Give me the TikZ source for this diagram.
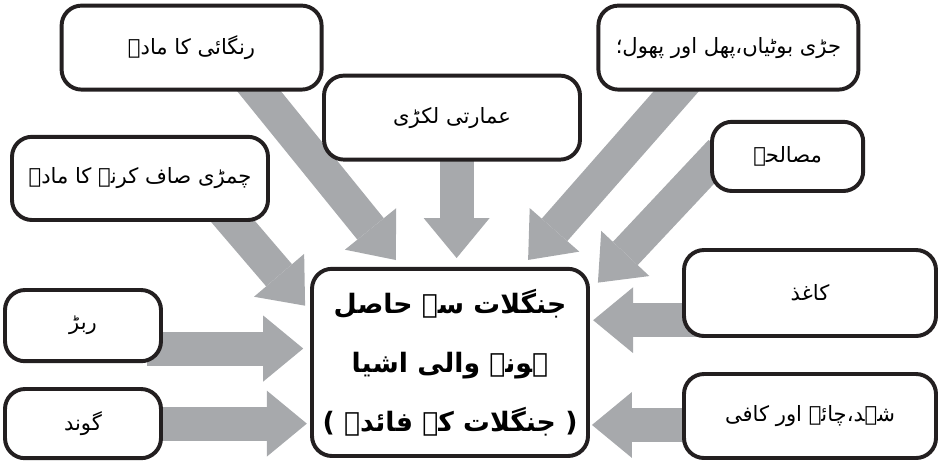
\documentclass[tikz,border=0pt]{standalone}
\usepackage{fontspec}
\usepackage{tikz}
\usetikzlibrary{arrows.meta,backgrounds}
\newfontfamily\urdu[Script=Arabic]{DejaVu Sans}
\TeXXeTstate=1
\definecolor{flowgray}{RGB}{167,169,172}
\definecolor{ink}{RGB}{35,31,32}

\begin{document}
\begin{tikzpicture}[
		source/.style={draw=ink,line width=2.8pt,rounded corners=.5cm,fill=white,font=\urdu\fontsize{15}{18}\selectfont},
		hub/.style={source,align=center,font=\urdu\bfseries\fontsize{19}{42}\selectfont},
		flow/.style={flowgray,line width=.85cm,-{Triangle[width=1.65cm,length=1cm,line width=0pt]},shorten <=-.4cm}]
			\useasboundingbox (0,0) rectangle (23.475,-11.65);
			\node[source,minimum width=6.5cm,minimum height=2.1cm] (rang) at (4.79,-1.19) {\beginR رنگائی کا مادہ\endR};
			\node[source,minimum width=6.4cm,minimum height=2.1cm] (imarat) at (11.3,-2.94) {\beginR عمارتی لکڑی\endR};
			\node[source,minimum width=6.5cm,minimum height=2.1cm] (jari) at (18.21,-1.19) {\beginR جڑی بوٹیاں،پھل اور پھول؛\endR};
			\node[source,minimum width=3.78cm,minimum height=1.73cm] (masale) at (19.69,-3.91) {\beginR مصالحے\endR};
			\node[source,minimum width=6.4cm,minimum height=2.08cm] (chamri) at (3.5,-4.46) {\beginR چمڑی صاف کرنے کا مادہ\endR};
			\node[source,minimum width=3.9cm,minimum height=1.78cm] (rubber) at (2.075,-8.14) {\beginR ربڑ\endR};
			\node[source,minimum width=3.9cm,minimum height=1.73cm] (gond) at (2.075,-10.59) {\beginR گوند\endR};
			\node[source,minimum width=6.3cm,minimum height=2.15cm] (kaghaz) at (20.25,-7.325) {\beginR کاغذ\endR};
			\node[source,minimum width=6.3cm,minimum height=2.1cm] (shahd) at (20.25,-10.4) {\beginR شہد،چائے اور کافی\endR};
			\node[hub,minimum width=6.9cm,minimum height=4.68cm] (centre) at (11.25,-9.06) {\beginR جنگلات سے حاصل\endR\\ \beginR ہونے والی اشیا\endR\\ \beginR ( جنگلات کے فائدے )\endR};
			\begin{scope}[on background layer]
				\draw[flow,shorten >=.22cm] (rang.-33) -- (centre.117);
				\draw[flow,shorten >=.22cm] (imarat.-84) -- (imarat.-84 |- centre.north);
				\draw[flow,shorten >=.23cm] (jari.-140) -- (centre.53);
				\draw[flow,shorten >=.29cm] (masale.-175) -- (centre.27);
				\draw[flow,shorten >=.19cm] (chamri.-25) -- (centre.160);
				\draw[flow,shorten >=.17cm] (rubber.-16) -- (rubber.-16 -| centre.west);
				\draw[flow,shorten >=.08cm] (gond.east) -- (gond.east -| centre.west);
				\draw[flow,shorten >=.08cm] (kaghaz.-168) -- (kaghaz.-168 -| centre.east);
				\draw[flow,shorten >=.05cm] (shahd.-176) -- (shahd.-176 -| centre.east);
			\end{scope}
		\end{tikzpicture}
\end{document}
